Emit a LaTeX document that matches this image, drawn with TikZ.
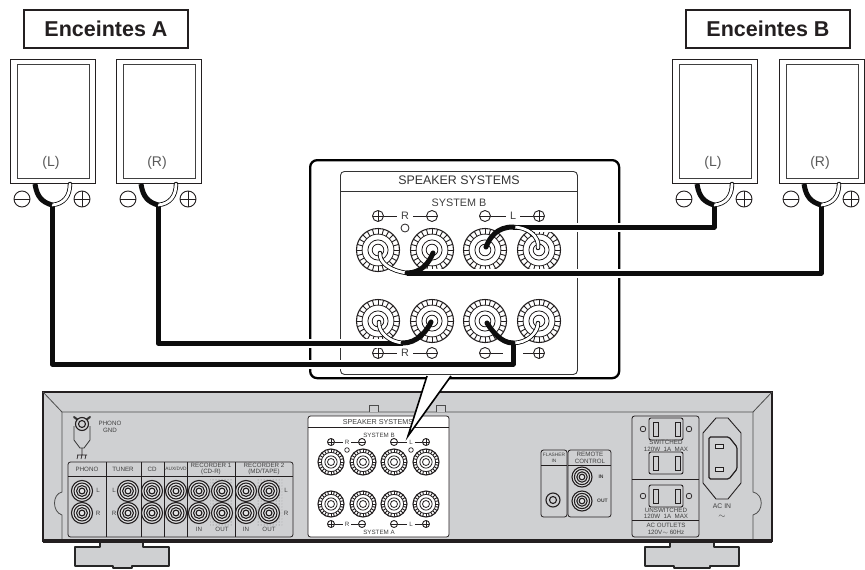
\documentclass[tikz,border=0pt]{standalone}
\usepackage{fontspec}
\setmainfont{Liberation Sans}
\usetikzlibrary{patterns}

\definecolor{chassis}{HTML}{CFD0D2}
\definecolor{inkline}{HTML}{231F20}

\tikzset{
    spkbox/.style={draw=inkline, fill=white, line width=1.2pt, anchor=north west, inner sep=0pt, minimum width=85pt, minimum height=124pt},
    spkinner/.style={draw=black!75, line width=1.1pt, anchor=north west, inner sep=0pt, minimum width=72pt, minimum height=114pt},
    titlebox/.style={draw=inkline, fill=white, line width=1.2pt, inner sep=0pt, minimum width=164pt, minimum height=38pt, font=\fontsize{21.5}{23}\selectfont\bfseries, text=inkline},
    spklabel/.style={inner sep=0pt, font=\fontsize{14}{15}\selectfont, text=black!65},
    plusterm/.style={circle, draw=inkline, line width=.9pt, inner sep=0pt, minimum size=#1, path picture={\draw[line width=.9pt] (path picture bounding box.north) -- (path picture bounding box.south) (path picture bounding box.west) -- (path picture bounding box.east);}},
    minusterm/.style={circle, draw=inkline, line width=.9pt, inner sep=0pt, minimum size=#1, path picture={\draw[line width=.9pt] (path picture bounding box.west) -- (path picture bounding box.east);}},
    cable/.style={draw=black!95, line width=5pt, line cap=round, line join=round},
    cablerun/.style={cable, line cap=butt, preaction={draw=white, line width=9pt}},
    branch/.style={draw=black, line width=.8pt, double=white, double distance=2.8pt, line cap=round},
    bigtext/.style={inner sep=4pt, font=\fontsize{10.8}{11}\selectfont, text=black!75},
    smalltext/.style={inner sep=0pt, align=center, font=\fontsize{6.2}{6.3}\selectfont, text=black!75},
    panel/.style={draw=inkline, line width=.8pt, rounded corners=2.5pt},
    jackring/.style={draw=inkline, line width=1.1pt},
    foot/.style={draw=black!85, fill=chassis, line width=1.2pt, line join=round}
}

% speaker terminal, name x y radius
\newcommand{\bindpost}[4]{
    \node[circle, draw=inkline, fill=white, line width=1.1pt, inner sep=0pt, minimum size={2*#4*1pt}] (#1) at (#2,#3) {};
    \foreach \a in {0,15,...,345}
        \draw[inkline, line width=.9pt] (#1.center) ++(\a:{.74*#4}) -- ++(\a:{.26*#4});
    \foreach \f in {.74,.47,.27}
        \draw[inkline, line width=.8pt] (#1.center) circle[radius={\f*#4}];
}
% cinch jack, name x y radius
\newcommand{\rcajack}[4]{
    \node[circle, jackring, fill=chassis!60, inner sep=0pt, minimum size={2*#4*1pt}] (#1) at (#2,#3) {};
    \foreach \f in {.76,.52,.28}
        \draw[jackring] (#1.center) circle[radius={\f*#4}];
}

\begin{document}
\begin{tikzpicture}[x=1pt, y=-1pt]
    \useasboundingbox (0,0) rectangle (865,570);

    % feet
    \draw[foot] (100,541) -- (100,547) -- (75,547) -- (75,566) -- (113,566) -- (113,568) -- (132,568) -- (132,566) -- (169,566) -- (169,547) -- (143,547) -- (143,541);
    \draw[foot] (670,541) -- (670,547) -- (645,547) -- (645,566) -- (674,566) -- (674,568) -- (710,568) -- (710,566) -- (739,566) -- (739,547) -- (714,547) -- (714,541);

    % chassis
    \draw[fill=chassis, draw=inkline, line width=2pt] (43,392) -- (772,392) -- (772,541) -- (43,541) -- cycle;
    \draw[inkline, line width=4pt] (43,541) -- (772,541);
    \draw[black!70, line width=.8pt] (43,392) -- (62,412) -- (753,412) -- (772,392);
    \draw[black!70, line width=.8pt] (62,412) -- (62,492) .. controls (52,494) and (52,512) .. (62,515) -- (62,539);
    \draw[black!70, line width=.8pt] (753,412) -- (753,492) .. controls (764,494) and (764,512) .. (753,515) -- (753,539);
    \draw[black!70, line width=.8pt, fill=chassis] (369,412) -- (369,405) -- (378,405) -- (378,412);
    \draw[black!70, line width=.8pt, fill=chassis] (436,412) -- (436,405) -- (445,405) -- (445,412);

    % phono ground
    \draw[black!80, line width=.8pt, fill=chassis] (74,426) -- (74,440) -- (80,448) -- (84,448) -- (90,440) -- (90,426);
    \draw[black!80, line width=2pt, line cap=round] (74,417) -- (78,420) (90,417) -- (86,420);
    \node[circle, jackring, fill=chassis, inner sep=0pt, minimum size=13pt] (gndscrew) at (82,424) {};
    \draw[jackring] (gndscrew.center) circle[radius=3.5];
    \coordinate (gndtop) at (82,448);
    \coordinate (gndbar) at (82,455);
    \draw[inkline, line width=.7pt] (gndtop) -- (gndbar) (77,455) -- (87,455) (78,455) -- (77,459) (82,455) -- (81,459) (86,455) -- (85,459);
    \node[smalltext] (gndtext) at (110,427) {PHONO\\GND};

    % input panel
    \draw[panel] (68,462) rectangle (293,537);
    \draw[inkline, line width=.9pt] (68,476) -- (293,476);
    \foreach \xx in {106,141,164,187,235}
        \draw[inkline, line width=.7pt] (\xx,462) -- (\xx,537);
    \node[smalltext] (hphono) at (87,469) {PHONO};
    \node[smalltext] (htuner) at (123,469) {TUNER};
    \node[smalltext] (hcd) at (152,469) {CD};
    \node[smalltext, font=\fontsize{4.8}{5}\selectfont] (haux) at (176,469) {AUX/DVD};
    \node[smalltext] (hrecone) at (211,469) {RECORDER 1\\(CD-R)};
    \node[smalltext] (hrectwo) at (264,469) {RECORDER 2\\(MD/TAPE)};
    \fill[pattern=dots, pattern color=black!55] (210,478) rectangle (233,525);
    \fill[pattern=dots, pattern color=black!55] (257,478) rectangle (282,525);
    \foreach \xx in {82,128,152,176,199,222,246,269}{
        \rcajack{jacktop\xx}{\xx}{491}{10.5}
        \rcajack{jackbot\xx}{\xx}{513}{10.5}
    }
    \node[smalltext] (lone) at (98,490) {L};
    \node[smalltext] (rone) at (98,513) {R};
    \node[smalltext] (ltwo) at (114,490) {L};
    \node[smalltext] (rtwo) at (114,513) {R};
    \node[smalltext] (lthree) at (286,490) {L};
    \node[smalltext] (rthree) at (286,513) {R};
    \node[smalltext] (inone) at (199,529) {IN};
    \node[smalltext] (outone) at (222,529) {OUT};
    \node[smalltext] (intwo) at (246,529) {IN};
    \node[smalltext] (outtwo) at (269,529) {OUT};

    % small speaker panel
    \draw[panel, fill=white] (308,416) rectangle (449,537);
    \draw[inkline, line width=.9pt] (308,427) -- (449,427);
    \node[smalltext, font=\fontsize{7.2}{8}\selectfont] (stitle) at (378,422) {SPEAKER SYSTEMS};
    \node[smalltext] (ssysb) at (379,435) {SYSTEM B};
    \node[smalltext] (ssysa) at (379,532) {SYSTEM A};
    \foreach \yy/\tag in {442/t,524/b}{
        \node[plusterm=7pt] (sp1\tag) at (331,\yy) {};
        \node[smalltext, inner sep=2pt] (srr\tag) at (347,\yy) {R};
        \node[minusterm=7pt] (sm1\tag) at (362,\yy) {};
        \node[minusterm=7pt] (sm2\tag) at (394,\yy) {};
        \node[smalltext, inner sep=2pt] (sll\tag) at (411,\yy) {L};
        \node[plusterm=7pt] (sp2\tag) at (426,\yy) {};
        \draw[inkline, line width=.6pt] (sp1\tag) -- (srr\tag);
        \draw[inkline, line width=.6pt] (srr\tag) -- (sm1\tag);
        \draw[inkline, line width=.6pt] (sm2\tag) -- (sll\tag);
        \draw[inkline, line width=.6pt] (sll\tag) -- (sp2\tag);
    }
    \draw[jackring, line width=.7pt] (347,450) circle[radius=2.3] (411,450) circle[radius=2.3];
    \foreach \xx in {331,363,394,426}{
        \bindpost{sposttop\xx}{\xx}{462}{13}
        \bindpost{spostbot\xx}{\xx}{504}{13}
    }

    % flasher and remote
    \draw[panel] (541,450) rectangle (567,517);
    \draw[inkline, line width=.9pt] (541,465) -- (567,465);
    \node[smalltext, font=\fontsize{4.8}{5.5}\selectfont] (hflash) at (554,458) {FLASHER\\IN};
    \node[circle, jackring, inner sep=0pt, minimum size=14pt] (flashjack) at (553,500) {};
    \draw[jackring] (flashjack.center) circle[radius=3.5];
    \draw[panel] (568,450) rectangle (611,517);
    \draw[inkline, line width=.9pt] (568,465) -- (611,465);
    \node[smalltext] (hremote) at (590,458) {REMOTE\\CONTROL};
    \rcajack{remin}{582}{477}{10}
    \rcajack{remout}{582}{501}{10}
    \node[smalltext, font=\fontsize{5}{5}\selectfont\bfseries] (tin) at (601,477) {IN};
    \node[smalltext, font=\fontsize{5}{5}\selectfont\bfseries] (tout) at (602.5,501) {OUT};

    % outlets
    \draw[panel] (632,416) rectangle (699,537);
    \draw[inkline, line width=.9pt] (632,479) -- (699,479);
    \draw[inkline, line width=.9pt] (632,520) -- (699,520);
    \foreach \yy/\tag in {429/a,463/b,496/c}{
        \node[draw=inkline, line width=.9pt, rounded corners=2pt, inner sep=0pt, minimum width=34pt, minimum height=22pt] (outlet\tag) at (666,\yy) {};
        \draw[inkline, line width=.8pt] (653,\yy-7) rectangle (658,\yy+7);
        \draw[inkline, line width=.8pt] (675,\yy-7) rectangle (680,\yy+7);
    }
    \foreach \yy in {429,496}
        \draw[inkline, line width=.7pt] (643,\yy) circle[radius=2.8] (689,\yy) circle[radius=2.8];
    \node[smalltext] (tswitched) at (666,446) {SWITCHED\\120W\ \ 1A\ \ MAX};
    \node[smalltext] (tunswitched) at (666,513.5) {UNSWITCHED\\120W\ \ 1A\ \ MAX};
    \node[smalltext] (toutlets) at (666,529) {AC OUTLETS\\120V$\sim$\ 60Hz};

    % ac inlet
    \draw[inkline, line width=.9pt] (703,433) -- (716,418) -- (728,418) -- (741,433) -- (741,483) -- (728,499) -- (716,499) -- (703,483) -- cycle;
    \draw[inkline, line width=1.2pt, rounded corners=1.5pt] (709,437) -- (729,437) -- (737,447) -- (737,469) -- (729,479) -- (709,479) -- cycle;
    \draw[inkline, line width=.9pt, fill=chassis!70] (715,444.5) rectangle (723,448.5);
    \draw[inkline, line width=.9pt, fill=chassis!70] (715,467.5) rectangle (723,471.5);
    \node[smalltext, font=\fontsize{6.8}{7}\selectfont] (tacin) at (722,506) {AC IN};
    \node[smalltext, font=\fontsize{9}{9}\selectfont] (tacwave) at (722,517) {$\sim$};

    % pointer and enlarged panel
    \node[draw=black, fill=white, line width=2.3pt, rounded corners=7pt, anchor=north west, inner sep=0pt, minimum width=309pt, minimum height=218pt] (callout) at (309,159) {};
    \coordinate (calloutl) at (427,376);
    \coordinate (calloutr) at (451,376);
    \coordinate (tip) at (408,436);
    \fill[white] (calloutl) -- (tip) -- (calloutr) -- cycle;
    \draw[black, line width=1.6pt] (calloutl) -- (tip) -- (calloutr);

    \node[draw=black!80, line width=.9pt, rounded corners=4pt, anchor=north west, inner sep=0pt, minimum width=237pt, minimum height=203pt] (panelbig) at (340,171) {};
    \draw[black!80, line width=.9pt] (340,191) -- (577,191);
    \node[inner sep=0pt, font=\fontsize{12.4}{13}\selectfont, text=black!80] (ttitle) at (459,180.5) {SPEAKER SYSTEMS};
    \node[bigtext, inner sep=0pt] (tsysb) at (459,203) {SYSTEM B};

    \foreach \yy/\tag in {216/t,353/b}{
        \node[plusterm=11pt] (p1\tag) at (378,\yy) {};
        \node[bigtext] (rr\tag) at (405,\yy) {R};
        \node[minusterm=11pt] (m1\tag) at (432,\yy) {};
        \node[minusterm=11pt] (m2\tag) at (485,\yy) {};
        \node[plusterm=11pt] (p2\tag) at (539,\yy) {};
        \draw[inkline, line width=.8pt] (p1\tag) -- (rr\tag);
        \draw[inkline, line width=.8pt] (rr\tag) -- (m1\tag);
    }
    \node[bigtext] (lltop) at (513,216) {L};
    \draw[inkline, line width=.8pt] (m2t) -- (lltop);
    \draw[inkline, line width=.8pt] (lltop) -- (p2t);
    \coordinate (ldashl) at (503,353);
    \coordinate (ldashr) at (523,353);
    \draw[inkline, line width=.8pt] (m2b) -- (ldashl);
    \draw[inkline, line width=.8pt] (ldashr) -- (p2b);
    \draw[inkline, line width=.8pt] (405,228) circle[radius=4];

    \foreach \xx in {378,432,485,539}{
        \bindpost{posttop\xx}{\xx}{250}{21.5}
        \bindpost{postbot\xx}{\xx}{321}{21.5}
    }

    % speakers
    \node[titlebox] (titleA) at (106,29) {Enceintes A};
    \node[titlebox] (titleB) at (768,29) {Enceintes B};
    \foreach \name/\xx/\lab in {AL/10/L, AR/116/R, BL/672/L, BR/779/R}{
        \node[spkbox] (spk\name) at (\xx,59) {};
        \node[spkinner] (in\name) at (\xx+6.5,64) {};
        \node[spklabel] (lab\name) at (\xx+41,163) {(\lab)};
        \node[minusterm=16pt] (neg\name) at (\xx+12,199) {};
        \node[plusterm=16pt] (pos\name) at (\xx+72,199) {};
        \coordinate (blk\name) at (\xx+25,184);
        \coordinate (wht\name) at (\xx+60,184);
        \coordinate (jct\name) at (\xx+42,205);
    }

    % cable junctions at the enlarged panel
    \coordinate (jbl) at (513,227);
    \coordinate (jbr) at (407,273);
    \coordinate (jal) at (513,343);
    \coordinate (jar) at (403,343);

    % cable runs
    \draw[cablerun] (jctAL) |- (513,364) -- (jal);
    \draw[cablerun] (jctAR) |- (jar);
    \draw[cablerun] (jctBL) |- (jbl);
    \draw[cablerun] (jctBR) |- (jbr);

    % forks at the speakers
    \foreach \name in {AL,AR,BL,BR}{
        \draw[branch] (wht\name) .. controls +(0,12) and +(12,-1) .. (jct\name);
        \draw[cable, line cap=butt] (blk\name) .. controls +(2,13) and +(-10,-3) .. (jct\name);
    }

    % forks at the terminals
    \draw[branch] (jbl) .. controls +(14,0) and +(2,-12) .. (538,248);
    \draw[cable] (jbl) .. controls +(-16,0) and +(4,-10) .. (486,247);
    \draw[branch] (jbr) .. controls +(-16,-2) and +(-1,10) .. (380,253);
    \draw[cable] (jbr) .. controls +(14,0) and +(-4,10) .. (433,253);
    \draw[branch] (jal) .. controls +(14,0) and +(0,10) .. (538,323);
    \draw[cable] (jal) .. controls +(-12,0) and +(5,8) .. (487,323);
    \draw[branch] (jar) .. controls +(-14,-1) and +(-1,10) .. (379,322);
    \draw[cable] (jar) .. controls +(14,0) and +(-4,9) .. (431,322);
\end{tikzpicture}
\end{document}
